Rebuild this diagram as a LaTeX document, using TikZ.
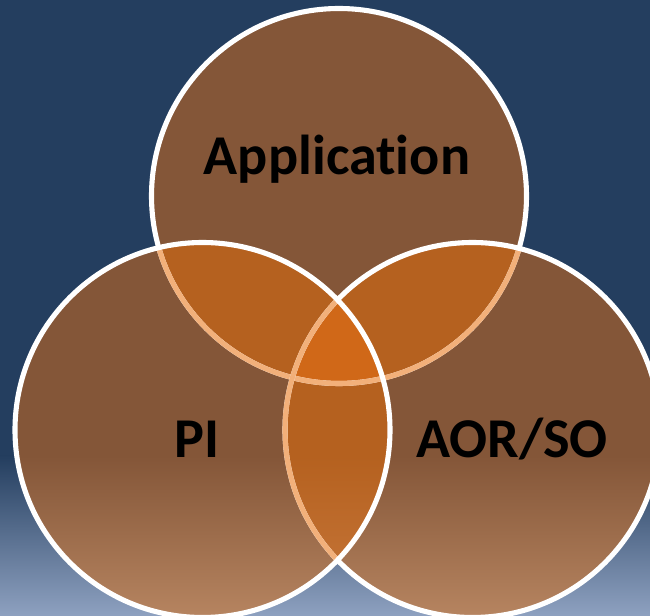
\documentclass[tikz,border=0pt]{standalone}
\usepackage{fontspec}
\setmainfont[Ligatures=NoCommon]{Carlito}
\usetikzlibrary{calc}

\definecolor{navy}{RGB}{36,62,95}
\definecolor{mist}{RGB}{142,161,192}
\definecolor{cbrown}{RGB}{132,86,56}
\definecolor{ctan}{RGB}{182,132,96}
\definecolor{corange}{RGB}{181,97,31}
\definecolor{corangelight}{RGB}{200,120,60}
\definecolor{cbright}{RGB}{208,104,24}
\definecolor{rimpeach}{RGB}{242,176,122}

\newcommand{\vennr}{187.5}

\begin{document}
\begin{tikzpicture}[x=0.02cm, y=0.02cm,
        rim/.style={draw=white, line width=2.9pt},
        hiddenrim/.style={draw=rimpeach, line width=2.9pt},
        venntext/.style={font=\bfseries\fontsize{32}{36}\selectfont, text=black, anchor=base, inner sep=0pt}
    ]
        % Circle centres
        \coordinate (app) at (339,420);
        \coordinate (pi) at (202.5,186);
        \coordinate (aor) at (472.5,186);

        % Background
        \fill[navy] (0,0) rectangle (650,616);
        \shade[top color=navy, bottom color=mist] (0,0) rectangle (650,160);
        \useasboundingbox (0,0) rectangle (650,616);

        % Circle fills
        \fill[cbrown] (app) circle[radius=\vennr] (pi) circle[radius=\vennr] (aor) circle[radius=\vennr];
        \begin{scope}
            \clip (pi) circle[radius=\vennr] (aor) circle[radius=\vennr];
            \shade[top color=cbrown, bottom color=ctan] (0,0) rectangle (650,160);
        \end{scope}

        % Pairwise overlaps
        \begin{scope}
            \clip (app) circle[radius=\vennr];
            \fill[corange] (pi) circle[radius=\vennr] (aor) circle[radius=\vennr];
        \end{scope}
        \begin{scope}
            \clip (pi) circle[radius=\vennr];
            \clip (aor) circle[radius=\vennr];
            \fill[corange] (0,0) rectangle (650,616);
            \shade[top color=corange, bottom color=corangelight] (0,0) rectangle (650,160);
        \end{scope}

        % Centre overlap
        \begin{scope}
            \clip (app) circle[radius=\vennr];
            \clip (pi) circle[radius=\vennr];
            \fill[cbright] (aor) circle[radius=\vennr];
        \end{scope}

        % Rims: top, then right, then left on top
        \draw[rim] (app) circle[radius=\vennr];
        \begin{scope}
            \clip (pi) circle[radius=\vennr] (aor) circle[radius=\vennr];
            \draw[hiddenrim] (app) circle[radius=\vennr];
        \end{scope}
        \draw[rim] (aor) circle[radius=\vennr];
        \begin{scope}
            \clip (pi) circle[radius=\vennr];
            \draw[hiddenrim] (aor) circle[radius=\vennr];
        \end{scope}
        \draw[rim] (pi) circle[radius=\vennr];

        % Labels
        \node[venntext] (apptext) at (337,441) {Application};
        \node[venntext] (pitext) at (197,158) {PI};
        \node[venntext] (aortext) at (512,158) {AOR/SO};
    \end{tikzpicture}
\end{document}
